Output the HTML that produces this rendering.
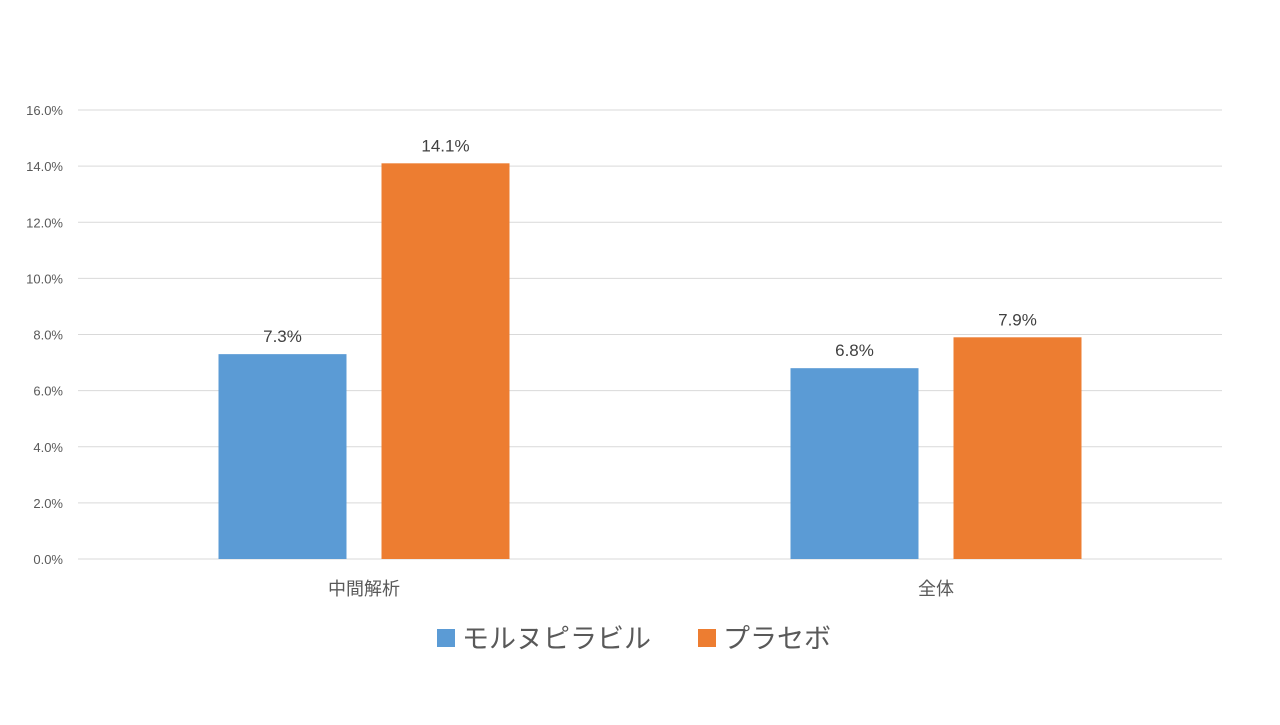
<!DOCTYPE html>
<html><head><meta charset="utf-8"><style>
body{margin:0;background:#fff;}
svg text{font-family:"Liberation Sans","Noto Sans CJK JP",sans-serif;}
</style></head><body>
<svg width="1280" height="720" id="chart"></svg>
<script>
const categories=["中間解析","全体"];
const seriesNames=["モルヌピラビル","プラセボ"];
const molnupiravir=[7.3,6.8];
const placebo=[14.1,7.9];
const tickLabels=["0.0%","2.0%","4.0%","6.0%","8.0%","10.0%","12.0%","14.0%","16.0%"];
const tickValues=[0,2,4,6,8,10,12,14,16];
const NS="http://www.w3.org/2000/svg";
const svg=document.getElementById('chart');
const L=78,R=1222,T=110,B=559,maxV=16;
const y=v=>B-(B-T)*v/maxV;
const groupW=(R-L)/categories.length;
const xc=i=>L+groupW*(i+0.5);
function mk(tag,attrs,txt){const e=document.createElementNS(NS,tag);for(const k in attrs)e.setAttribute(k,attrs[k]);if(txt!==undefined)e.textContent=txt;svg.appendChild(e);return e;}
tickValues.forEach((v,i)=>{
  const g=mk('line',{x1:L,x2:R,y1:y(v),y2:y(v),stroke:'#d9d9d9','stroke-width':1});
  
  
  const t=mk('text',{x:63,y:y(v)+5,'text-anchor':'end','font-size':13,fill:'#595959'},tickLabels[i]);
  
  
});
const series=[molnupiravir,placebo];
const colors=['#5b9bd5','#ed7d31'];
const bw=128,gap=35;
categories.forEach((c,i)=>{
  series.forEach((s,j)=>{
    const x=xc(i)+(j===0?-(gap/2+bw):gap/2);
    const r=mk('rect',{x:x,y:y(s[i]),width:bw,height:B-y(s[i]),fill:colors[j]});
    
    
    const t=mk('text',{x:x+bw/2,y:y(s[i])-12,'text-anchor':'middle','font-size':17,fill:'#404040'},s[i].toFixed(1)+'%');
    
    
  });
  const ct=mk('text',{x:xc(i),y:595,'text-anchor':'middle','font-size':18,fill:'#595959'},c);
  
  
});
const lx=[437,698];
seriesNames.forEach((n,j)=>{
  const r=mk('rect',{x:lx[j],y:629,width:18,height:18,fill:colors[j]});
  
  
  const t=mk('text',{x:lx[j]+25,y:648,'font-size':27,fill:'#595959'},n);
  
  
});
</script>
</body></html>
